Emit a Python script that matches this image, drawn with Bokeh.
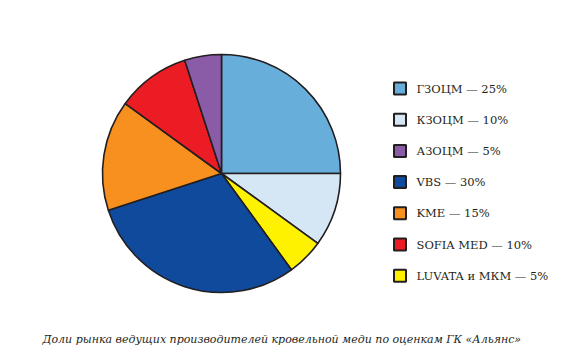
import math
from bokeh.plotting import figure
from bokeh.models import Range1d, ColumnDataSource
from bokeh.core.properties import value
from bokeh.embed import file_html
from bokeh.resources import INLINE

# Data (legend order)
companies = ["ГЗОЦМ", "КЗОЦМ", "АЗОЦМ", "VBS", "KME", "SOFIA MED", "LUVATA и МКМ"]
shares = [25, 10, 5, 30, 15, 10, 5]
colors = ["#68aedb", "#d5e7f4", "#8a5ba6", "#0f4a9c", "#f7901e", "#ec1c24", "#fff200"]
# clockwise order of slices starting at 12 o'clock (indices into lists above)
pie_order = [0, 1, 6, 3, 4, 5, 2]
caption = "Доли рынка ведущих производителей кровельной меди по оценкам ГК «Альянс»"

W, H = 565, 357
p = figure(width=W, height=H, x_range=Range1d(0, W), y_range=Range1d(0, H),
           output_backend="svg", toolbar_location=None, min_border=0)
p.axis.visible = False
p.grid.visible = False
p.outline_line_color = None
p.background_fill_color = "white"

cx, cy, r = 221, H - 173, 119
total = sum(shares)
starts, ends, cols = [], [], []
cum = 0
for i in pie_order:
    a0 = math.pi / 2 - 2 * math.pi * cum / total
    cum += shares[i]
    a1 = math.pi / 2 - 2 * math.pi * cum / total
    starts.append(a0)
    ends.append(a1)
    cols.append(colors[i])
src = ColumnDataSource(dict(x=[cx] * len(starts), y=[cy] * len(starts),
                            start=starts, end=ends, color=cols))
p.wedge(x="x", y="y", radius=r, start_angle="start", end_angle="end",
        direction="clock", fill_color="color", line_color="#231f20",
        line_width=1.6, source=src)

# legend
ly0 = 88
dy = 31.2
lx = 399.5
ys = [H - (ly0 + k * dy) for k in range(len(companies))]
labels = [f"{c} — {s}%" for c, s in zip(companies, shares)]
lsrc = ColumnDataSource(dict(x=[lx] * len(ys), y=ys, color=colors, label=labels,
                             tx=[416] * len(ys)))
p.rect(x="x", y="y", width=12, height=12, fill_color="color",
       line_color="#231f20", line_width=2, source=lsrc)
p.text(x="tx", y="y", text="label", text_font=value("DejaVu Serif"),
       text_font_size="11.5px", text_color="#231f20", text_baseline="middle",
       source=lsrc)

p.text(x=[42], y=[H - 339], text=[caption], text_font=value("DejaVu Serif"),
       text_font_style="italic", text_font_size="11px", text_color="#231f20",
       text_baseline="middle")

open("out.html", "w").write(file_html(p, INLINE))
